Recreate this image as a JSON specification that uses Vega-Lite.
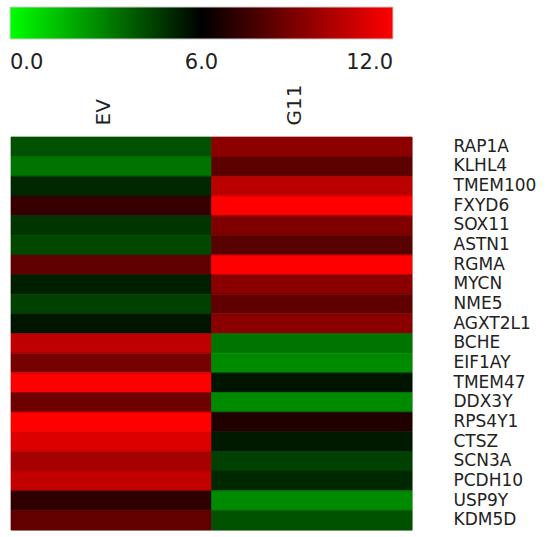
{
  "$schema": "https://vega.github.io/schema/vega-lite/v6.json",
  "width": 401,
  "height": 393,
  "autosize": "none",
  "padding": {"left": 11, "top": 137, "right": 137, "bottom": 7},
  "background": "white",
  "config": {"view": {"stroke": "#bbbbbb", "strokeWidth": 1}},
  "data": {"values": [
    {"gene": "RAP1A", "sample": "EV", "value": 4.1}, {"gene": "RAP1A", "sample": "G11", "value": 9.3},
    {"gene": "KLHL4", "sample": "EV", "value": 3.27}, {"gene": "KLHL4", "sample": "G11", "value": 8.2},
    {"gene": "TMEM100", "sample": "EV", "value": 5.06}, {"gene": "TMEM100", "sample": "G11", "value": 10.4},
    {"gene": "FXYD6", "sample": "EV", "value": 7.3}, {"gene": "FXYD6", "sample": "G11", "value": 12},
    {"gene": "SOX11", "sample": "EV", "value": 4.75}, {"gene": "SOX11", "sample": "G11", "value": 9.0},
    {"gene": "ASTN1", "sample": "EV", "value": 4.3}, {"gene": "ASTN1", "sample": "G11", "value": 8.1},
    {"gene": "RGMA", "sample": "EV", "value": 8.26}, {"gene": "RGMA", "sample": "G11", "value": 12},
    {"gene": "MYCN", "sample": "EV", "value": 5.3}, {"gene": "MYCN", "sample": "G11", "value": 9.25},
    {"gene": "NME5", "sample": "EV", "value": 4.5}, {"gene": "NME5", "sample": "G11", "value": 8.26},
    {"gene": "AGXT2L1", "sample": "EV", "value": 5.5}, {"gene": "AGXT2L1", "sample": "G11", "value": 9.25},
    {"gene": "BCHE", "sample": "EV", "value": 10.5}, {"gene": "BCHE", "sample": "G11", "value": 3.27},
    {"gene": "EIF1AY", "sample": "EV", "value": 8.8}, {"gene": "EIF1AY", "sample": "G11", "value": 2.75},
    {"gene": "TMEM47", "sample": "EV", "value": 12}, {"gene": "TMEM47", "sample": "G11", "value": 5.5},
    {"gene": "DDX3Y", "sample": "EV", "value": 8.6}, {"gene": "DDX3Y", "sample": "G11", "value": 2.75},
    {"gene": "RPS4Y1", "sample": "EV", "value": 12}, {"gene": "RPS4Y1", "sample": "G11", "value": 6.75},
    {"gene": "CTSZ", "sample": "EV", "value": 11.2}, {"gene": "CTSZ", "sample": "G11", "value": 5.4},
    {"gene": "SCN3A", "sample": "EV", "value": 9.9}, {"gene": "SCN3A", "sample": "G11", "value": 4.5},
    {"gene": "PCDH10", "sample": "EV", "value": 10.6}, {"gene": "PCDH10", "sample": "G11", "value": 5.06},
    {"gene": "USP9Y", "sample": "EV", "value": 7.1}, {"gene": "USP9Y", "sample": "G11", "value": 2.75},
    {"gene": "KDM5D", "sample": "EV", "value": 8.3}, {"gene": "KDM5D", "sample": "G11", "value": 4.1}
  ]},
  "encoding": {
    "x": {
      "field": "sample", "type": "nominal", "sort": ["EV", "G11"],
      "scale": {"paddingInner": 0, "paddingOuter": 0},
      "axis": {
        "orient": "top", "title": null, "domain": false, "ticks": false,
        "labelAngle": -90, "labelAlign": "left", "labelBaseline": "middle",
        "labelPadding": 12, "labelFont": "DejaVu Sans", "labelFontSize": 20,
        "labelColor": "#222222",
        "labelOffset": {"expr": "datum.value == 'EV' ? -7 : -17"}
      }
    },
    "y": {
      "field": "gene", "type": "nominal", "sort": null,
      "scale": {"paddingInner": 0, "paddingOuter": 0},
      "axis": {
        "orient": "right", "title": null, "domain": false, "ticks": false,
        "labelPadding": 41, "labelFont": "DejaVu Sans", "labelFontSize": 17,
        "labelColor": "#222222", "labelAlign": "left"
      }
    }
  },
  "layer": [
    {
      "mark": {"type": "rect"},
      "encoding": {
        "color": {
          "field": "value", "type": "quantitative",
          "scale": {"domain": [0, 6, 12], "range": ["#00ff00", "#000000", "#ff0000"], "interpolate": "rgb"},
          "legend": {
            "orient": "none", "legendX": -1, "legendY": -130,
            "direction": "horizontal", "title": null,
            "gradientLength": 383, "gradientThickness": 32,
            "gradientStrokeColor": "#cccccc", "gradientStrokeWidth": 1,
            "values": [0, 6, 12], "format": ".1f",
            "labelFont": "DejaVu Sans", "labelFontSize": 21, "labelColor": "#222222",
            "labelOffset": 13
          }
        }
      }
    },
    {
      "mark": {"type": "rect", "fill": null, "fillOpacity": 0, "strokeWidth": 0.7},
      "encoding": {
        "stroke": {
          "field": "value", "type": "quantitative",
          "scale": {"domain": [0, 6, 12], "range": ["#00ff00", "#000000", "#ff0000"], "interpolate": "rgb"},
          "legend": null
        }
      }
    }
  ],
  "resolve": {"scale": {"stroke": "independent"}, "legend": {"stroke": "independent", "color": "independent"}}
}
